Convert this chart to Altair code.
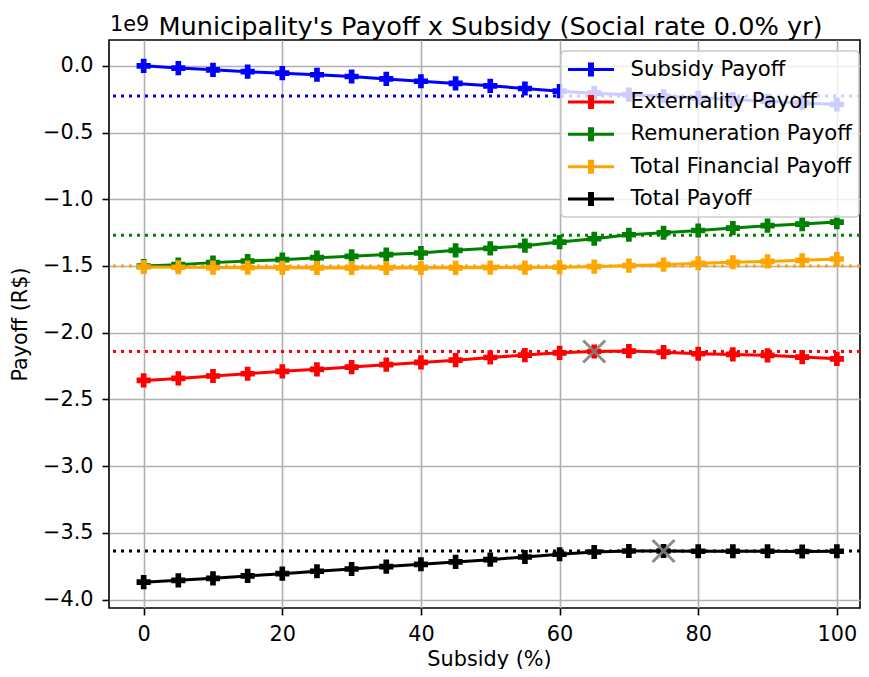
import altair as alt
import pandas as pd

# ---------------- data (values in units of 1e9 R$) ----------------
subsidy = [0, 5, 10, 15, 20, 25, 30, 35, 40, 45, 50, 55, 60, 65, 70, 75, 80, 85, 90, 95, 100]

series_names = ["Subsidy Payoff", "Externality Payoff", "Remuneration Payoff",
                "Total Financial Payoff", "Total Payoff"]
series_colors = ["#0000ff", "#ff0000", "#008000", "#ffa500", "#000000"]

subsidy_payoff = [0.000, -0.017, -0.030, -0.044, -0.055, -0.067, -0.080, -0.098, -0.116, -0.132,
                  -0.150, -0.170, -0.190, -0.205, -0.216, -0.228, -0.240, -0.252, -0.265, -0.278, -0.290]
externality_payoff = [-2.358, -2.343, -2.325, -2.308, -2.290, -2.275, -2.258, -2.240, -2.223, -2.206,
                      -2.186, -2.168, -2.151, -2.141, -2.138, -2.146, -2.158, -2.163, -2.170, -2.183, -2.196]
remuneration_payoff = [-1.500, -1.490, -1.475, -1.463, -1.453, -1.438, -1.428, -1.415, -1.403, -1.383,
                       -1.368, -1.348, -1.321, -1.296, -1.266, -1.251, -1.234, -1.216, -1.198, -1.186, -1.171]
total_financial_payoff = [-1.508, -1.510, -1.512, -1.513, -1.514, -1.515, -1.515, -1.515, -1.515, -1.514,
                          -1.513, -1.512, -1.510, -1.505, -1.497, -1.490, -1.480, -1.472, -1.466, -1.458, -1.448]
total_payoff = [-3.870, -3.856, -3.841, -3.823, -3.806, -3.788, -3.771, -3.753, -3.736, -3.718,
                -3.701, -3.681, -3.661, -3.644, -3.636, -3.636, -3.638, -3.638, -3.638, -3.640, -3.638]

# dotted reference levels, one per series
reference_levels = [-0.227, -2.141, -1.270, -1.501, -3.636]

# grey "x" optimum markers
optimum_subsidy = [65, 75]
optimum_payoff = [-2.141, -3.636]

x_ticks = [0, 20, 40, 60, 80, 100]
y_ticks = [-4.0, -3.5, -3.0, -2.5, -2.0, -1.5, -1.0, -0.5, 0.0]
offset_label = ["1e9"]
title_text = "Municipality's Payoff x Subsidy (Social rate 0.0% yr)"

# ---------------- tables ----------------
all_series = [subsidy_payoff, externality_payoff, remuneration_payoff,
              total_financial_payoff, total_payoff]
rows = []
for name, vals in zip(series_names, all_series):
    for s, v in zip(subsidy, vals):
        rows.append({"Subsidy": s, "Payoff": v, "Series": name})
df = pd.DataFrame(rows)
ref_df = pd.DataFrame({"Series": series_names, "Payoff": reference_levels})
opt_df = pd.DataFrame({"Subsidy": optimum_subsidy, "Payoff": optimum_payoff})
lab_df = pd.DataFrame({"t": offset_label})

FONT = "DejaVu Sans"
FS = 20.8
PLOT_W, PLOT_H = 751, 568
color_scale = alt.Scale(domain=series_names, range=series_colors)
x_scale = alt.Scale(domain=[-5, 103.34], nice=False, zero=False)
y_scale = alt.Scale(domain=[-4.0635, 0.1935], nice=False, zero=False)

common_axis = dict(labelFont=FONT, labelFontSize=FS, labelColor="black",
                   titleFont=FONT, titleFontSize=FS, titleFontWeight="normal", titleColor="black",
                   tickColor="black", tickSize=7, tickWidth=1.6, domain=False,
                   grid=True, gridColor="#b0b0b0", gridWidth=1.6)

x_axis = alt.Axis(values=x_ticks, format="d", title="Subsidy (%)", labelPadding=9.5,
                  titleX=380, titleY=51, titleBaseline="middle", titleAlign="center",
                  **common_axis)
y_axis = alt.Axis(values=y_ticks, format=".1f", title="Payoff (R$)", labelPadding=9,
                  titleX=-89, titleY=284, titleAngle=-90, titleAlign="center",
                  titleBaseline="middle", **common_axis)

X = alt.X("Subsidy:Q", scale=x_scale, axis=x_axis)
Y = alt.Y("Payoff:Q", scale=y_scale, axis=y_axis)

LEGEND_SYMBOL = "M-2,-0.13H-0.26V-0.61H0.26V-0.13H2V0.13H0.26V0.61H-0.26V0.13H-2Z"
X_SHAPE = "M-1,-1L1,1M-1,1L1,-1"

rules = alt.Chart(ref_df).mark_rule(strokeDash=[3, 5], strokeWidth=3, strokeCap="butt").encode(
    y=alt.Y("Payoff:Q", scale=y_scale, axis=y_axis),
    color=alt.Color("Series:N", scale=color_scale, legend=None),
)

lines = alt.Chart(df).mark_line(strokeWidth=3).encode(
    x=X, y=Y,
    color=alt.Color("Series:N", scale=color_scale, legend=None),
)

points = alt.Chart(df).mark_point(shape="cross", filled=True, size=200, opacity=1).encode(
    x=X, y=Y,
    color=alt.Color("Series:N", scale=color_scale, legend=alt.Legend(
        title=None, orient="none", legendX=452, legendY=11,
        symbolType=LEGEND_SYMBOL, symbolSize=529, symbolStrokeWidth=0,
        symbolOffset=11.5, labelOffset=28,
        labelFont=FONT, labelFontSize=21.2, labelColor="black", labelLimit=400,
        padding=7, rowPadding=10.4,
        fillColor="rgba(255,255,255,0.8)", strokeColor="#cccccc", cornerRadius=4,
    )),
)

optimum = alt.Chart(opt_df).mark_point(shape=X_SHAPE, filled=False, size=484, strokeWidth=3,
                                        color="#808080", opacity=0.9).encode(x=X, y=Y)

offset_text = alt.Chart(lab_df).mark_text(font=FONT, fontSize=FS, align="left",
                                          baseline="middle", color="black").encode(
    x=alt.value(1), y=alt.value(-15), text="t:N")

chart = alt.layer(rules, lines, points, optimum, offset_text).resolve_legend(
    color="independent"
).properties(
    width=PLOT_W, height=PLOT_H,
    title=alt.TitleParams(title_text, font=FONT, fontSize=25.6, fontWeight="normal",
                          color="black", anchor="middle", frame="group", offset=8,
                          baseline="alphabetic", dy=55, dx=6),
    autosize=alt.AutoSizeParams(type="none"),
    padding={"left": 101, "top": 32, "right": 1, "bottom": 61},
).configure_view(stroke="black", strokeWidth=1.6).configure_legend(strokeWidth=1.6)

chart.save("out.html", embed_options={"renderer": "svg", "actions": False})
